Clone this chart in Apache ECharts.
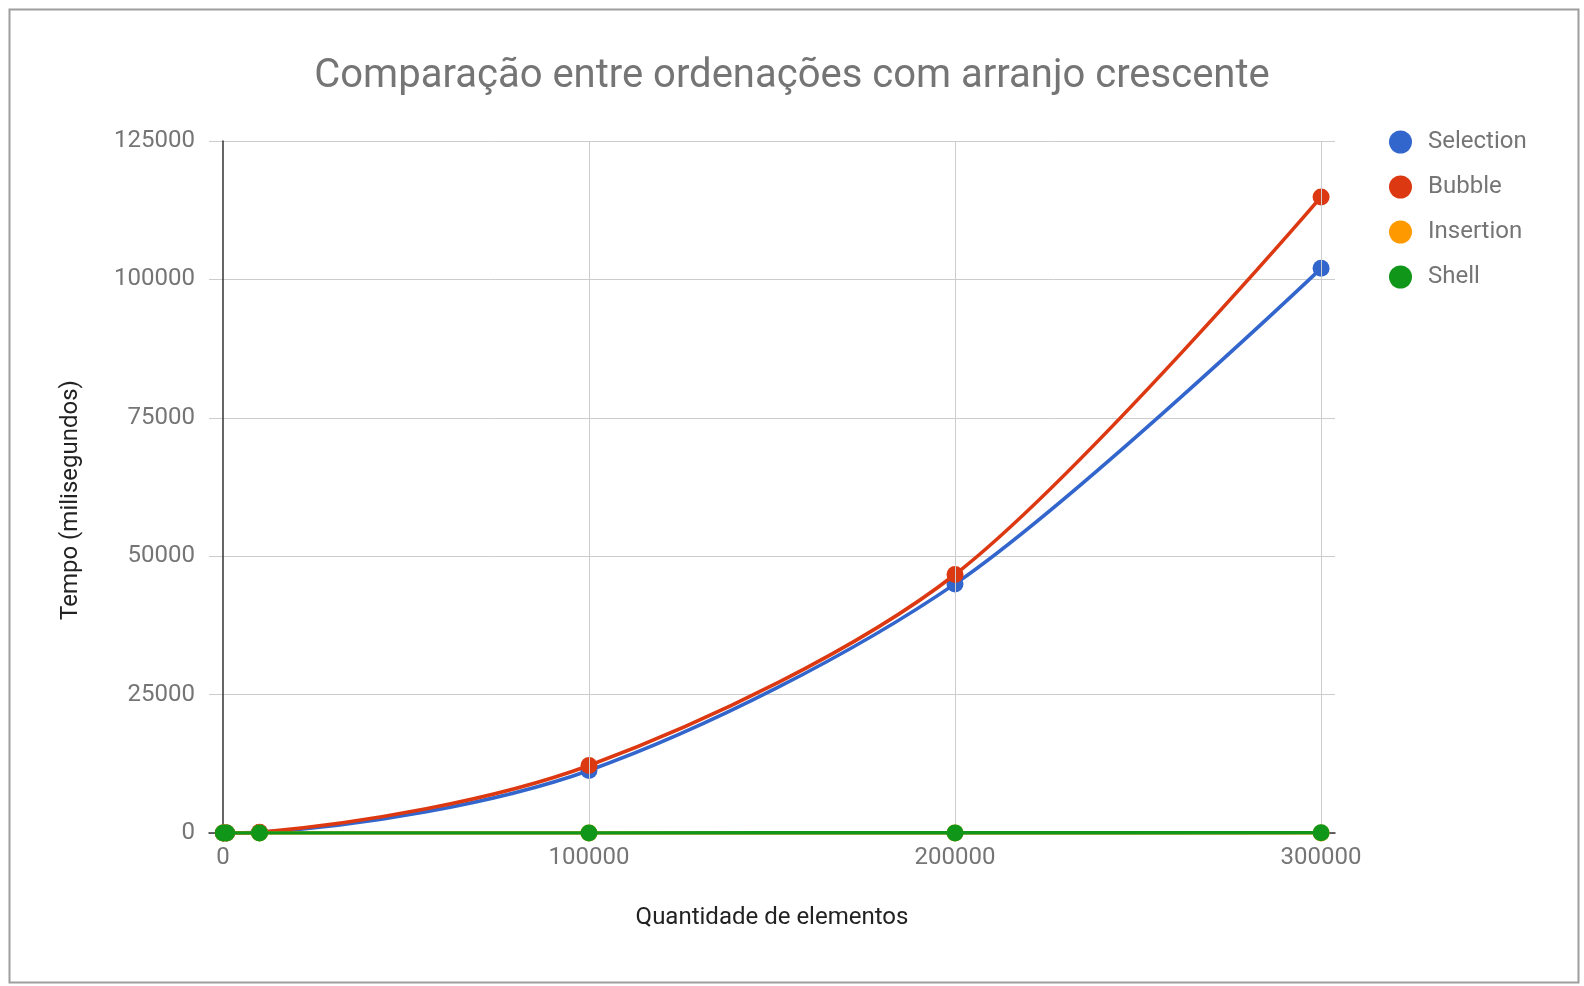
<!DOCTYPE html>
<html>
<head>
<meta charset="utf-8">
<script src="https://cdn.jsdelivr.net/npm/echarts@6/dist/echarts.min.js"></script>
<style>
html,body{margin:0;padding:0;background:#fff;}
#c{width:1584px;height:986px;}
</style>
</head>
<body>
<div id="c"></div>
<script>
var titleText = 'Comparação entre ordenações com arranjo crescente';
var xName = 'Quantidade de elementos';
var yName = 'Tempo (milisegundos)';
var sizes = [100, 1000, 10000, 100000, 200000, 300000];
var selection = [0, 2, 110, 11300, 45000, 102000];
var bubble = [0, 3, 150, 12200, 46700, 114900];
var insertion = [0, 0, 0, 1, 2, 3];
var shell = [0, 0, 1, 10, 22, 35];
var seriesNames = ['Selection', 'Bubble', 'Insertion', 'Shell'];
var seriesColors = ['#3366cc', '#dc3912', '#ff9900', '#109618'];
var seriesValues = [selection, bubble, insertion, shell];
var xGridValues = [100000, 200000, 300000];
var yTicks = [0, 25000, 50000, 75000, 100000, 125000];

var font = 'Roboto, "Noto Sans", sans-serif';
var chart = echarts.init(document.getElementById('c'), null, {renderer: 'canvas'});

function pairs(vals) { return sizes.map(function (x, i) { return [x, vals[i]]; }); }

var series = seriesNames.map(function (n, i) {
  return {
    name: n, type: 'line', data: pairs(seriesValues[i]),
    smooth: 0.3, symbol: 'circle', symbolSize: 17, showSymbol: true,
    lineStyle: {width: 3.6, color: seriesColors[i]},
    itemStyle: {color: seriesColors[i]},
    z: 3 + i
  };
});
series.unshift({
  name: '_grid', type: 'line', data: [], silent: true, z: 1,
  markLine: {
    silent: true, symbol: 'none', label: {show: false},
    lineStyle: {color: '#cccccc', width: 1, type: 'solid'},
    animation: false,
    data: xGridValues.map(function (v) { return {xAxis: v}; })
  }
});

chart.setOption({
  animation: false,
  backgroundColor: '#ffffff',
  color: seriesColors,
  title: {
    text: titleText, left: 'center', top: 52,
    textStyle: {fontFamily: font, fontSize: 40, fontWeight: 'normal', color: '#757575'}
  },
  legend: {
    data: seriesNames, orient: 'vertical', left: 1384, top: 125,
    icon: 'circle', itemWidth: 23, itemHeight: 23, itemGap: 21,
    textStyle: {fontFamily: font, fontSize: 24, color: '#757575', padding: [0, 0, 0, 11]}
  },
  grid: {left: 209, right: 249, top: 141, bottom: 153, containLabel: false},
  xAxis: {
    type: 'value', min: -3800, max: 303800, splitNumber: 3,
    name: xName, nameLocation: 'middle', nameGap: 73,
    nameTextStyle: {fontFamily: font, fontSize: 24, color: '#222222'},
    axisLine: {show: true, lineStyle: {color: '#333333', width: 1.5}},
    axisTick: {show: false},
    splitLine: {show: false},
    axisLabel: {
      fontFamily: font, fontSize: 24, color: '#757575', margin: 13,
      formatter: function (v) { return (v >= 0 && v % 100000 === 0) ? String(v) : ''; }
    }
  },
  yAxis: {
    type: 'value', min: yTicks[0], max: yTicks[yTicks.length - 1], interval: 25000,
    name: yName, nameLocation: 'middle', nameGap: 126,
    nameTextStyle: {fontFamily: font, fontSize: 24, color: '#222222', padding: [0, 26, 0, 0]},
    axisLine: {show: true, onZero: true, lineStyle: {color: '#333333', width: 1.5}},
    axisTick: {show: false},
    splitLine: {show: true, lineStyle: {color: '#cccccc', width: 1}},
    axisLabel: {fontFamily: font, fontSize: 24, color: '#757575', margin: 14,
      formatter: function (v) { return String(v); }}
  },
  graphic: [{
    type: 'rect', left: 7, top: 7, silent: true,
    shape: {width: 1569, height: 973},
    style: {fill: 'none', stroke: '#9e9e9e', lineWidth: 2}
  }],
  series: series
});
</script>
</body>
</html>
